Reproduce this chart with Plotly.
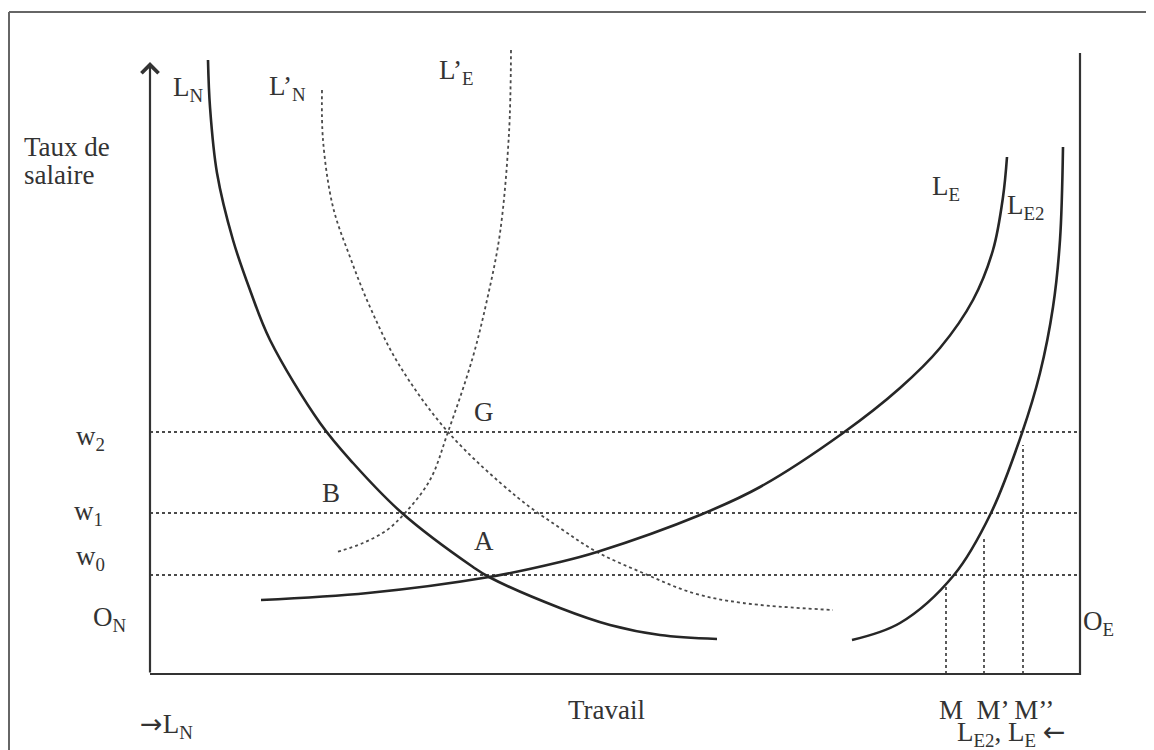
import plotly.graph_objects as go

# ---- data (diagram units: origin O_N at bottom-left of the box) ----
X_TOTAL = 930          # total labour (O_N ... O_E)
Y_AXIS_TOP = 612       # wage axis height
RIGHT_AXIS_TOP = 621

w_levels = {"w2": 242, "w1": 161, "w0": 99}

LN_x = [58, 60, 67, 83, 100, 120, 170, 203, 252, 323, 339, 410, 460, 510, 567]
LN_y = [614, 567, 501, 434, 384, 334, 251, 211, 161, 107, 97, 66, 49, 39, 35]

LpN_x = [172, 173, 183, 200, 220, 248, 298, 367, 410, 447, 493, 543, 593, 683]
LpN_y = [584, 534, 467, 417, 367, 311, 242, 177, 146, 122, 101, 81, 71, 64]

LpE_x = [361, 359, 350, 337, 322, 298, 280, 255, 237, 213, 187]
LpE_y = [624, 541, 441, 374, 314, 242, 194, 161, 144, 131, 122]

LE_x = [111, 218, 339, 410, 447, 550, 610, 693, 750, 790, 823, 843, 853, 857]
LE_y = [74, 81, 97, 112, 122, 159, 187, 241, 286, 326, 374, 424, 477, 517]

LE2_x = [702, 750, 804, 841, 872, 890, 903, 910, 913]
LE2_y = [34, 51, 99, 161, 241, 301, 367, 434, 527]

M_x = [796, 834, 873]
M_top = [88, 136, 229]

SOLID = dict(color="#262626", width=2.6)
DOT = dict(color="#4a4a4a", width=1.8, dash="dot")

fig = go.Figure()

# horizontal wage lines
for name, yv in w_levels.items():
    fig.add_trace(go.Scatter(x=[0, X_TOTAL], y=[yv, yv], mode="lines", line=DOT,
                             hoverinfo="skip", showlegend=False))
# vertical M lines
for xv, yt in zip(M_x, M_top):
    fig.add_trace(go.Scatter(x=[xv, xv], y=[0, yt], mode="lines", line=DOT,
                             hoverinfo="skip", showlegend=False))

# curves
for xs, ys, st in [(LpN_x, LpN_y, DOT), (LpE_x, LpE_y, DOT),
                   (LN_x, LN_y, SOLID), (LE_x, LE_y, SOLID), (LE2_x, LE2_y, SOLID)]:
    fig.add_trace(go.Scatter(x=xs, y=ys, mode="lines",
                             line=dict(shape="spline", smoothing=1.0, **st),
                             hoverinfo="skip", showlegend=False))

# box axes (bottom + right)
fig.add_trace(go.Scatter(x=[0, X_TOTAL, X_TOTAL], y=[0, 0, RIGHT_AXIS_TOP], mode="lines",
                         line=dict(color="#333", width=2.2), hoverinfo="skip", showlegend=False))

# outer frame
fig.add_shape(type="line", xref="x", yref="y", x0=-141, y0=662, x1=1004, y1=662,
              line=dict(color="#666", width=2))
fig.add_shape(type="line", xref="x", yref="y", x0=-141, y0=662, x1=-141, y1=-76,
              line=dict(color="#666", width=2))

# left axis with arrow
fig.add_annotation(x=0, y=Y_AXIS_TOP, ax=0, ay=0, xref="x", yref="y", axref="x", ayref="y",
                   text="", showarrow=True, arrowhead=4, arrowsize=1.5, arrowwidth=2.2,
                   arrowcolor="#333", standoff=0, startstandoff=0)

FONT = dict(family="Liberation Serif, Times New Roman, serif", size=27, color="#333")
ARROW_R = "<span style='font-family:DejaVu Sans'>→</span>"
ARROW_L = "<span style='font-family:DejaVu Sans'>←</span>"

labels = [
    ("Taux de", -128, 527, "left"),
    ("salaire", -128, 499, "left"),
    ("L<sub>N</sub>", 38, 585, "center"),
    ("L’<sub>N</sub>", 137, 586, "center"),
    ("L’<sub>E</sub>", 306, 602, "center"),
    ("L<sub>E</sub>", 796, 486, "center"),
    ("L<sub>E2</sub>", 876, 467, "center"),
    ("G", 334, 262, "center"),
    ("B", 181, 181, "center"),
    ("A", 334, 133, "center"),
    ("w<sub>2</sub>", -60, 236, "center"),
    ("w<sub>1</sub>", -62, 161, "center"),
    ("w<sub>0</sub>", -60, 116, "center"),
    ("O<sub>N</sub>", -40, 55, "center"),
    (ARROW_R + "L<sub>N</sub>", 16, -51, "center"),
    ("Travail", 456, -36, "center"),
    ("M  M’ M’’", 846, -36, "center"),
    ("L<sub>E2</sub>, L<sub>E</sub> " + ARROW_L, 861, -59, "center"),
    ("O<sub>E</sub>", 948, 51, "center"),
]
for t, x, y, anc in labels:
    fig.add_annotation(x=x, y=y, xref="x", yref="y", text=t, showarrow=False,
                       xanchor=anc, yanchor="middle", font=FONT)

# page body has an 8px margin: size/range compensate so the drawing sits like the reference
fig.update_layout(
    width=1146, height=742, margin=dict(l=0, r=0, t=0, b=0),
    paper_bgcolor="white", plot_bgcolor="white",
    xaxis=dict(range=[-142, 1004], visible=False, fixedrange=True),
    yaxis=dict(range=[-76, 666], visible=False, fixedrange=True),
)

fig.write_html("out.html")
